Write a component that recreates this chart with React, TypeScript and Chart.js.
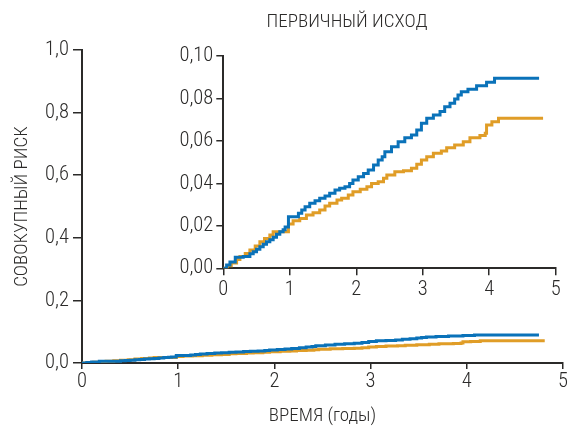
import React, { useEffect, useRef } from 'react';
import { Chart, registerables } from 'chart.js';

Chart.register(...registerables);

// ---- data ----
const blueTimes = [0, 0.05, 0.1, 0.18, 0.3, 0.4, 0.45, 0.5, 0.55, 0.6, 0.65, 0.7, 0.75, 0.8, 0.85, 0.9, 0.93, 0.98, 1.13, 1.18, 1.23, 1.3, 1.38, 1.45, 1.53, 1.6, 1.68, 1.75, 1.83, 1.9, 1.95, 2.03, 2.11, 2.18, 2.26, 2.33, 2.39, 2.43, 2.53, 2.63, 2.73, 2.83, 2.91, 2.98, 3.06, 3.16, 3.26, 3.33, 3.41, 3.48, 3.53, 3.58, 3.68, 3.81, 3.96, 4.08, 4.75];
const blueRisk = [0, 0.0015, 0.003, 0.0052, 0.0055, 0.0068, 0.0078, 0.009, 0.0102, 0.0113, 0.0125, 0.0135, 0.0146, 0.016, 0.0172, 0.0182, 0.0195, 0.0243, 0.0259, 0.0275, 0.029, 0.0306, 0.0318, 0.033, 0.034, 0.0353, 0.0369, 0.0377, 0.0384, 0.04, 0.0416, 0.0431, 0.0447, 0.0463, 0.0487, 0.051, 0.0525, 0.0549, 0.0573, 0.0596, 0.0615, 0.0628, 0.0651, 0.0683, 0.0707, 0.0722, 0.0738, 0.0761, 0.0777, 0.0797, 0.0816, 0.0832, 0.0843, 0.086, 0.0876, 0.0895, 0.0895];

const goldTimes = [0, 0.06, 0.12, 0.2, 0.25, 0.33, 0.4, 0.48, 0.55, 0.62, 0.7, 0.75, 0.98, 1.05, 1.15, 1.25, 1.35, 1.45, 1.53, 1.6, 1.71, 1.78, 1.88, 1.95, 2.06, 2.16, 2.23, 2.33, 2.41, 2.46, 2.58, 2.71, 2.83, 2.91, 2.98, 3.06, 3.16, 3.28, 3.36, 3.48, 3.61, 3.71, 3.86, 3.94, 3.96, 4.04, 4.14, 4.81];
const goldRisk = [0, 0.0012, 0.0025, 0.0042, 0.0055, 0.007, 0.0086, 0.0105, 0.0125, 0.014, 0.0157, 0.0172, 0.0209, 0.0224, 0.0235, 0.0251, 0.0262, 0.0275, 0.0293, 0.0306, 0.0322, 0.033, 0.0345, 0.0361, 0.0372, 0.0384, 0.04, 0.0408, 0.0424, 0.0439, 0.0455, 0.046, 0.0471, 0.049, 0.051, 0.0526, 0.0542, 0.0553, 0.0568, 0.0581, 0.0596, 0.0615, 0.0625, 0.0636, 0.0675, 0.069, 0.0707, 0.0707];

const xTickLabels = ['0', '1', '2', '3', '4', '5'];
const mainYTickLabels = ['0,0', '0,2', '0,4', '0,6', '0,8', '1,0'];
const insetYTickLabels = ['0,00', '0,02', '0,04', '0,06', '0,08', '0,10'];

const insetTitle = 'ПЕРВИЧНЫЙ ИСХОД';
const yTitle = 'СОВОКУПНЫЙ РИСК';
const xTitle = 'ВРЕМЯ (годы)';

// ---- styles ----
const INK = '#2b2a29';
const BLUE = '#0a72b9';
const GOLD = '#e09d27';
const FAMILY = "Roboto, 'Open Sans', sans-serif";
// "condensed" is passed through the weight slot so the canvas font shorthand selects Roboto's condensed width
const tickFont = { family: FAMILY, size: 20.5, weight: '300 condensed' as any };
const titleFont = { family: FAMILY, size: 19, weight: '300 condensed' as any };

function makeDatasets() {
  return [
    {
      data: blueTimes.map((t, i) => ({ x: t, y: blueRisk[i] })),
      borderColor: BLUE,
      borderWidth: 3,
      pointRadius: 0,
      stepped: true as const,
      fill: false,
    },
    {
      data: goldTimes.map((t, i) => ({ x: t, y: goldRisk[i] })),
      borderColor: GOLD,
      borderWidth: 3,
      pointRadius: 0,
      stepped: true as const,
      fill: false,
    },
  ];
}

export default function App() {
  const mainRef = useRef<HTMLCanvasElement>(null);
  const insetRef = useRef<HTMLCanvasElement>(null);

  useEffect(() => {
    document.body.style.margin = '0';
    const main = new Chart(mainRef.current!, {
      type: 'line',
      data: { datasets: makeDatasets() as any },
      options: {
        animation: false,
        responsive: false,
        maintainAspectRatio: false,
        layout: { autoPadding: false, padding: { left: 0, top: 50, right: 2, bottom: 0 } } as any,
        plugins: { legend: { display: false }, tooltip: { enabled: false }, title: { display: false } },
        scales: {
          x: {
            type: 'linear',
            min: 0,
            max: 5,
            afterFit: (s: any) => { s.height = 63; },
            border: { display: true, color: INK, width: 2 },
            grid: { drawOnChartArea: false, drawTicks: true, tickLength: 6, color: INK, lineWidth: 1.5 },
            ticks: {
              stepSize: 1,
              padding: 1,
              font: tickFont,
              color: INK,
              callback: (_v: any, i: number) => xTickLabels[i],
            },
            title: { display: true, text: xTitle, font: titleFont, color: INK, padding: { top: 0, bottom: -2 } },
          },
          y: {
            type: 'linear',
            min: 0,
            max: 1,
            afterFit: (s: any) => { s.width = 82; },
            border: { display: true, color: INK, width: 2 },
            grid: { drawOnChartArea: false, drawTicks: true, tickLength: 9, color: INK, lineWidth: 1.5 },
            ticks: {
              stepSize: 0.2,
              padding: 4,
              font: tickFont,
              color: INK,
              callback: (_v: any, i: number) => mainYTickLabels[i],
            },
            title: { display: true, text: yTitle, font: titleFont, color: INK, padding: { top: 11, bottom: 0 } },
          },
        },
      } as any,
    });

    const inset = new Chart(insetRef.current!, {
      type: 'line',
      data: { datasets: makeDatasets() as any },
      options: {
        animation: false,
        responsive: false,
        maintainAspectRatio: false,
        layout: { autoPadding: false, padding: { left: 13.3, top: 0, right: 13.3, bottom: 0 } } as any,
        plugins: {
          legend: { display: false },
          tooltip: { enabled: false },
          title: {
            display: true,
            text: insetTitle,
            font: titleFont,
            color: INK,
            padding: { top: 11, bottom: 22.2 },
          },
        },
        scales: {
          x: {
            type: 'linear',
            min: 0,
            max: 5,
            afterFit: (s: any) => { s.height = 36.7; },
            border: { display: true, color: INK, width: 2 },
            grid: { drawOnChartArea: false, drawTicks: true, tickLength: 7, color: INK, lineWidth: 1.5 },
            ticks: {
              stepSize: 1,
              padding: 2,
              font: tickFont,
              color: INK,
              callback: (_v: any, i: number) => xTickLabels[i],
            },
          },
          y: {
            type: 'linear',
            min: 0,
            max: 0.1,
            afterFit: (s: any) => { s.width = 85; },
            border: { display: true, color: INK, width: 2 },
            grid: { drawOnChartArea: false, drawTicks: true, tickLength: 7, color: INK, lineWidth: 1.5 },
            ticks: {
              stepSize: 0.02,
              padding: 3,
              font: tickFont,
              color: INK,
              callback: (_v: any, i: number) => insetYTickLabels[i],
            },
          },
        },
      } as any,
    });

    return () => {
      main.destroy();
      inset.destroy();
    };
  }, []);

  return (
    <div style={{ position: 'relative', width: 569, height: 426, overflow: 'hidden', background: '#fff' }}>
      <canvas ref={mainRef} width={569} height={426} style={{ position: 'absolute', left: 0, top: 0, width: 569, height: 426 }} />
      <canvas ref={insetRef} width={444} height={305} style={{ position: 'absolute', left: 125, top: 0, width: 444, height: 305 }} />
    </div>
  );
}
